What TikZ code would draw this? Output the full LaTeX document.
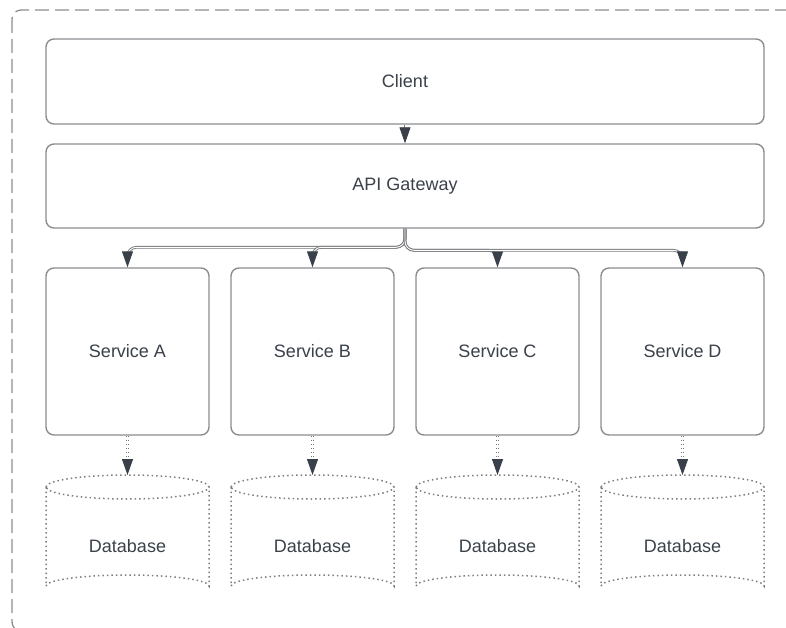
\documentclass[tikz,border=0pt]{standalone}
\usepackage{fontspec}
\setmainfont{Liberation Sans}
\usetikzlibrary{arrows.meta}
\definecolor{edgec}{HTML}{8A8D91}
\definecolor{textc}{HTML}{3A414A}
\definecolor{tipc}{HTML}{394049}
\tikzset{
  box/.style={draw=edgec, line width=1.4pt, rounded corners=8pt, fill=white,
    text=textc, font=\fontsize{18}{22}\selectfont, inner sep=0pt},
  lbl/.style={text=textc, font=\fontsize{18}{22}\selectfont, inner sep=0pt},
  tip/.style={-{Triangle[length=16pt,width=11pt,color=tipc]}},
  conn/.style={draw=edgec!85!black, line width=0.9pt, double=white, double distance=0.9pt, tip},
  dconn/.style={draw=edgec!85!black, line width=1pt, double=white, double distance=1pt,
    dash pattern=on 1.6pt off 2.4pt, tip},
  dbline/.style={draw=edgec!90!black, line width=1.5pt, dash pattern=on 1.5pt off 3pt},
  frame/.style={draw=edgec, line width=1.3pt, dash pattern=on 14pt off 6pt, rounded corners=9pt}
}
\begin{document}
\begin{tikzpicture}[x=1pt,y=-1pt]
\useasboundingbox (0,0) rectangle (786,628);
% outer dashed frame
\draw[frame] (12,10) rectangle (810,631);

% client and gateway
\node[box, minimum width=718pt, minimum height=85pt] (client) at (405,81.5) {Client};
\node[box, minimum width=718pt, minimum height=84pt] (gw) at (405,186) {API Gateway};
\draw[conn] (client.south) -- (gw.north);

% services, their databases and the links between them
\foreach \n/\cx/\lab/\lift in {A/127.5/Service A/20, B/312.5/Service B/20, C/497.5/Service C/17, D/682.5/Service D/17}{
  \node[box, minimum width=163pt, minimum height=167pt] (s\n) at (\cx,351.5) {\lab};
  % cylinder outline
  \draw[dbline] (\cx-81.5,487) arc[start angle=180, end angle=540, x radius=81.5, y radius=12];
  \draw[dbline] (\cx-81.5,487) -- (\cx-81.5,586)
        arc[start angle=180, end angle=360, x radius=81.5, y radius=11] -- (\cx+81.5,487);
  \coordinate (top\n) at (\cx,475);
  \node[lbl] (db\n) at (\cx,546) {Database};
  \draw[dconn] (s\n.south) -- (top\n);
  \draw[conn] (gw.south) [rounded corners=9pt] |- ([yshift=\lift pt]s\n.north) [rounded corners=2pt] -- (s\n.north);
}
\end{tikzpicture}
\end{document}
